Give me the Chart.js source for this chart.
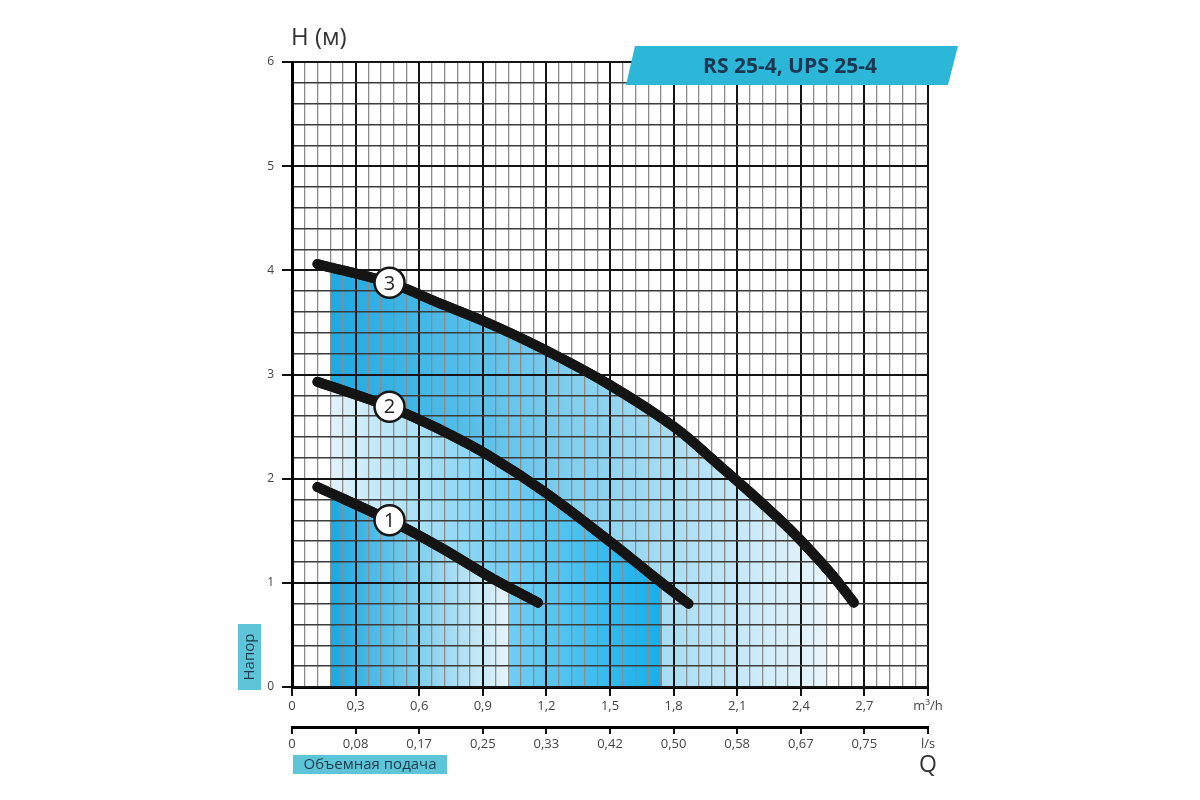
<!DOCTYPE html>
<html lang="ru">
<head>
<meta charset="utf-8">
<title>RS 25-4, UPS 25-4</title>
<script src="https://cdn.jsdelivr.net/npm/chart.js@4.4.1/dist/chart.umd.min.js"></script>
<style>
  html, body { margin: 0; padding: 0; background: #fff; }
  #wrap { width: 1200px; height: 800px; }
</style>
</head>
<body>
<div id="wrap"><canvas id="pump-chart" width="1200" height="800"></canvas></div>
<script>
// Q in m3/h, H in m
var curve1Q = [0.12, 0.46, 0.70, 0.93, 1.16];
var curve1H = [1.92, 1.60, 1.34, 1.06, 0.81];
var curve2Q = [0.12, 0.46, 0.70, 0.93, 1.20, 1.51, 1.70, 1.87];
var curve2H = [2.93, 2.69, 2.47, 2.22, 1.86, 1.38, 1.07, 0.80];
var curve3Q = [0.12, 0.46, 0.70, 0.93, 1.17, 1.49, 1.80, 2.02, 2.16, 2.32, 2.44, 2.55, 2.65];
var curve3H = [4.06, 3.88, 3.68, 3.49, 3.26, 2.91, 2.50, 2.12, 1.87, 1.57, 1.32, 1.07, 0.81];
var curveNames = ['1', '2', '3'];

// shaded working zone for each speed (m3/h)
var zoneFrom = 0.18;
var zoneTo = [1.02, 1.745, 2.52];

var m3hLabels = ['0', '0,3', '0,6', '0,9', '1,2', '1,5', '1,8', '2,1', '2,4', '2,7', 'm\u00b3/h'];
var lsLabels = ['0', '0,08', '0,17', '0,25', '0,33', '0,42', '0,50', '0,58', '0,67', '0,75', 'l/s'];
var hLabels = ['0', '1', '2', '3', '4', '5', '6'];

// colours of the zones, left edge -> right edge
var zoneLeft = ['#1aa8e0', '#e2f2fa', '#1ea9e2'];
var zoneRight = ['#e6f4fb', '#14afec', '#e9f5fc'];

function points(qs, hs) {
  return qs.map(function(q, i) { return {x: q, y: hs[i]}; });
}

function qIndex(v) { return Math.round(v / 0.06); }
function hIndex(v) { return Math.round(v / 0.2); }

function zoneFill(i) {
  return function(c) {
    var chart = c.chart, area = chart.chartArea;
    if (!area) return 'rgba(0,0,0,0)';
    var sx = chart.scales.x;
    var w = area.right - area.left;
    var a = (sx.getPixelForValue(zoneFrom) - area.left) / w;
    var b = (sx.getPixelForValue(zoneTo[i]) - area.left) / w;
    var g = chart.ctx.createLinearGradient(area.left, 0, area.right, 0);
    g.addColorStop(0, 'rgba(255,255,255,0)');
    g.addColorStop(a, 'rgba(255,255,255,0)');
    g.addColorStop(a, zoneLeft[i]);
    g.addColorStop(b, zoneRight[i]);
    g.addColorStop(b, 'rgba(255,255,255,0)');
    g.addColorStop(1, 'rgba(255,255,255,0)');
    return g;
  };
}

function curve(qs, hs, i) {
  return {
    data: points(qs, hs),
    borderColor: '#141414',
    borderWidth: 10,
    borderCapStyle: 'round',
    borderJoinStyle: 'round',
    backgroundColor: zoneFill(i),
    fill: 'origin',
    pointRadius: 0,
    tension: 0.4
  };
}

var tickFont = {family: 'Open Sans', size: 13};

// labels, boxes and the curve numbers
var decor = {
  id: 'decor',
  afterDraw: function(chart) {
    var ctx = chart.ctx, area = chart.chartArea;

    // curves once more so the grid does not cross them
    chart.data.datasets.forEach(function(ds, i) {
      chart.getDatasetMeta(i).dataset.draw(ctx, area);
    });

    ctx.save();
    chart.data.datasets.forEach(function(ds, i) {
      var p = chart.getDatasetMeta(i).data[1];
      ctx.beginPath();
      ctx.arc(p.x, p.y, 15, 0, Math.PI * 2);
      ctx.fillStyle = '#fff';
      ctx.fill();
      ctx.lineWidth = 2.5;
      ctx.strokeStyle = '#161616';
      ctx.stroke();
      ctx.fillStyle = '#222';
      ctx.font = '20px "Open Sans"';
      ctx.textAlign = 'center';
      ctx.textBaseline = 'middle';
      ctx.fillText(curveNames[i], p.x, p.y + 1);
    });

    // H (м)
    ctx.fillStyle = '#333';
    ctx.font = '24px "Open Sans"';
    ctx.textAlign = 'left';
    ctx.textBaseline = 'alphabetic';
    ctx.fillText('H (\u043c)', area.left - 1, area.top - 17);

    // Q
    ctx.font = '23px "Open Sans"';
    ctx.textAlign = 'center';
    ctx.fillText('Q', area.right, 772);

    // title banner
    ctx.beginPath();
    ctx.moveTo(635, 46);
    ctx.lineTo(958, 46);
    ctx.lineTo(948, 85);
    ctx.lineTo(626, 85);
    ctx.closePath();
    ctx.fillStyle = '#2cb7d8';
    ctx.fill();
    ctx.fillStyle = '#1b3751';
    ctx.font = 'bold 21px "Open Sans"';
    ctx.textBaseline = 'middle';
    ctx.fillText('RS 25-4, UPS 25-4', 790, 67);

    // Напор
    ctx.fillStyle = '#5ec4d8';
    ctx.fillRect(238, 624, 23, 66);
    ctx.save();
    ctx.translate(250, 657);
    ctx.rotate(-Math.PI / 2);
    ctx.fillStyle = '#1d3a4c';
    ctx.font = '15px "Open Sans"';
    ctx.fillText('\u041d\u0430\u043f\u043e\u0440', 0, 0);
    ctx.restore();

    // Объемная подача
    ctx.fillStyle = '#5ec4d8';
    ctx.fillRect(293, 755, 154, 19);
    ctx.fillStyle = '#1d3a4c';
    ctx.font = '15px "Open Sans"';
    ctx.textAlign = 'center';
    ctx.fillText('\u041e\u0431\u044a\u0435\u043c\u043d\u0430\u044f \u043f\u043e\u0434\u0430\u0447\u0430', 370, 765);
    ctx.restore();
  }
};

var ctx = document.getElementById('pump-chart').getContext('2d');
var pumpChart = new Chart(ctx, {
  type: 'line',
  data: {
    datasets: [
      curve(curve1Q, curve1H, 0),
      curve(curve2Q, curve2H, 1),
      curve(curve3Q, curve3H, 2)
    ]
  },
  options: {
    responsive: false,
    animation: false,
    layout: {padding: {left: 240, right: 272, top: 62, bottom: 33}},
    plugins: {
      legend: {display: false},
      tooltip: {enabled: false},
      filler: {drawTime: 'beforeDatasetsDraw'}
    },
    scales: {
      x: {
        type: 'linear',
        position: 'bottom',
        min: 0,
        max: 3,
        weight: 0,
        afterFit: function(s) { s.height = 40; },
        grid: {
          z: 1,
          color: function(c) { return qIndex(c.tick.value) % 5 === 0 ? '#151515' : '#8c8c8c'; },
          lineWidth: function(c) { return qIndex(c.tick.value) % 5 === 0 ? 2 : 1.3; },
          tickColor: function(c) { return qIndex(c.tick.value) % 5 === 0 ? '#111' : 'rgba(0,0,0,0)'; },
          tickWidth: 2,
          tickLength: 9
        },
        border: {color: '#000', width: 3, z: 1},
        ticks: {
          stepSize: 0.06,
          maxTicksLimit: 100,
          autoSkip: false,
          maxRotation: 0,
          minRotation: 0,
          padding: 2,
          color: '#444',
          font: tickFont,
          callback: function(v) {
            var k = qIndex(v);
            return k % 5 === 0 ? m3hLabels[k / 5] : '';
          }
        }
      },
      x2: {
        type: 'linear',
        position: 'bottom',
        min: 0,
        max: 3,
        weight: 1,
        afterFit: function(s) { s.height = 40; },
        grid: {drawOnChartArea: false, color: '#111', lineWidth: 2, tickLength: 7},
        border: {color: '#000', width: 3},
        ticks: {
          stepSize: 0.3,
          autoSkip: false,
          maxRotation: 0,
          minRotation: 0,
          padding: 2,
          color: '#444',
          font: tickFont,
          callback: function(v) { return lsLabels[Math.round(v / 0.3)]; }
        }
      },
      y: {
        type: 'linear',
        min: 0,
        max: 6,
        afterFit: function(s) { s.width = 52; },
        grid: {
          z: 1,
          color: function(c) { return hIndex(c.tick.value) % 5 === 0 ? '#151515' : '#3c3c3c'; },
          lineWidth: function(c) { return hIndex(c.tick.value) % 5 === 0 ? 2 : 1.4; },
          tickColor: function(c) { return hIndex(c.tick.value) % 5 === 0 ? '#111' : 'rgba(0,0,0,0)'; },
          tickWidth: 2,
          tickLength: 10
        },
        border: {color: '#000', width: 3, z: 1},
        ticks: {
          stepSize: 0.2,
          maxTicksLimit: 100,
          autoSkip: false,
          padding: 8,
          color: '#444',
          font: {family: 'Open Sans', size: 12},
          callback: function(v) {
            var k = hIndex(v);
            return k % 5 === 0 ? hLabels[k / 5] : '';
          }
        }
      }
    }
  },
  plugins: [decor]
});
</script>
</body>
</html>
